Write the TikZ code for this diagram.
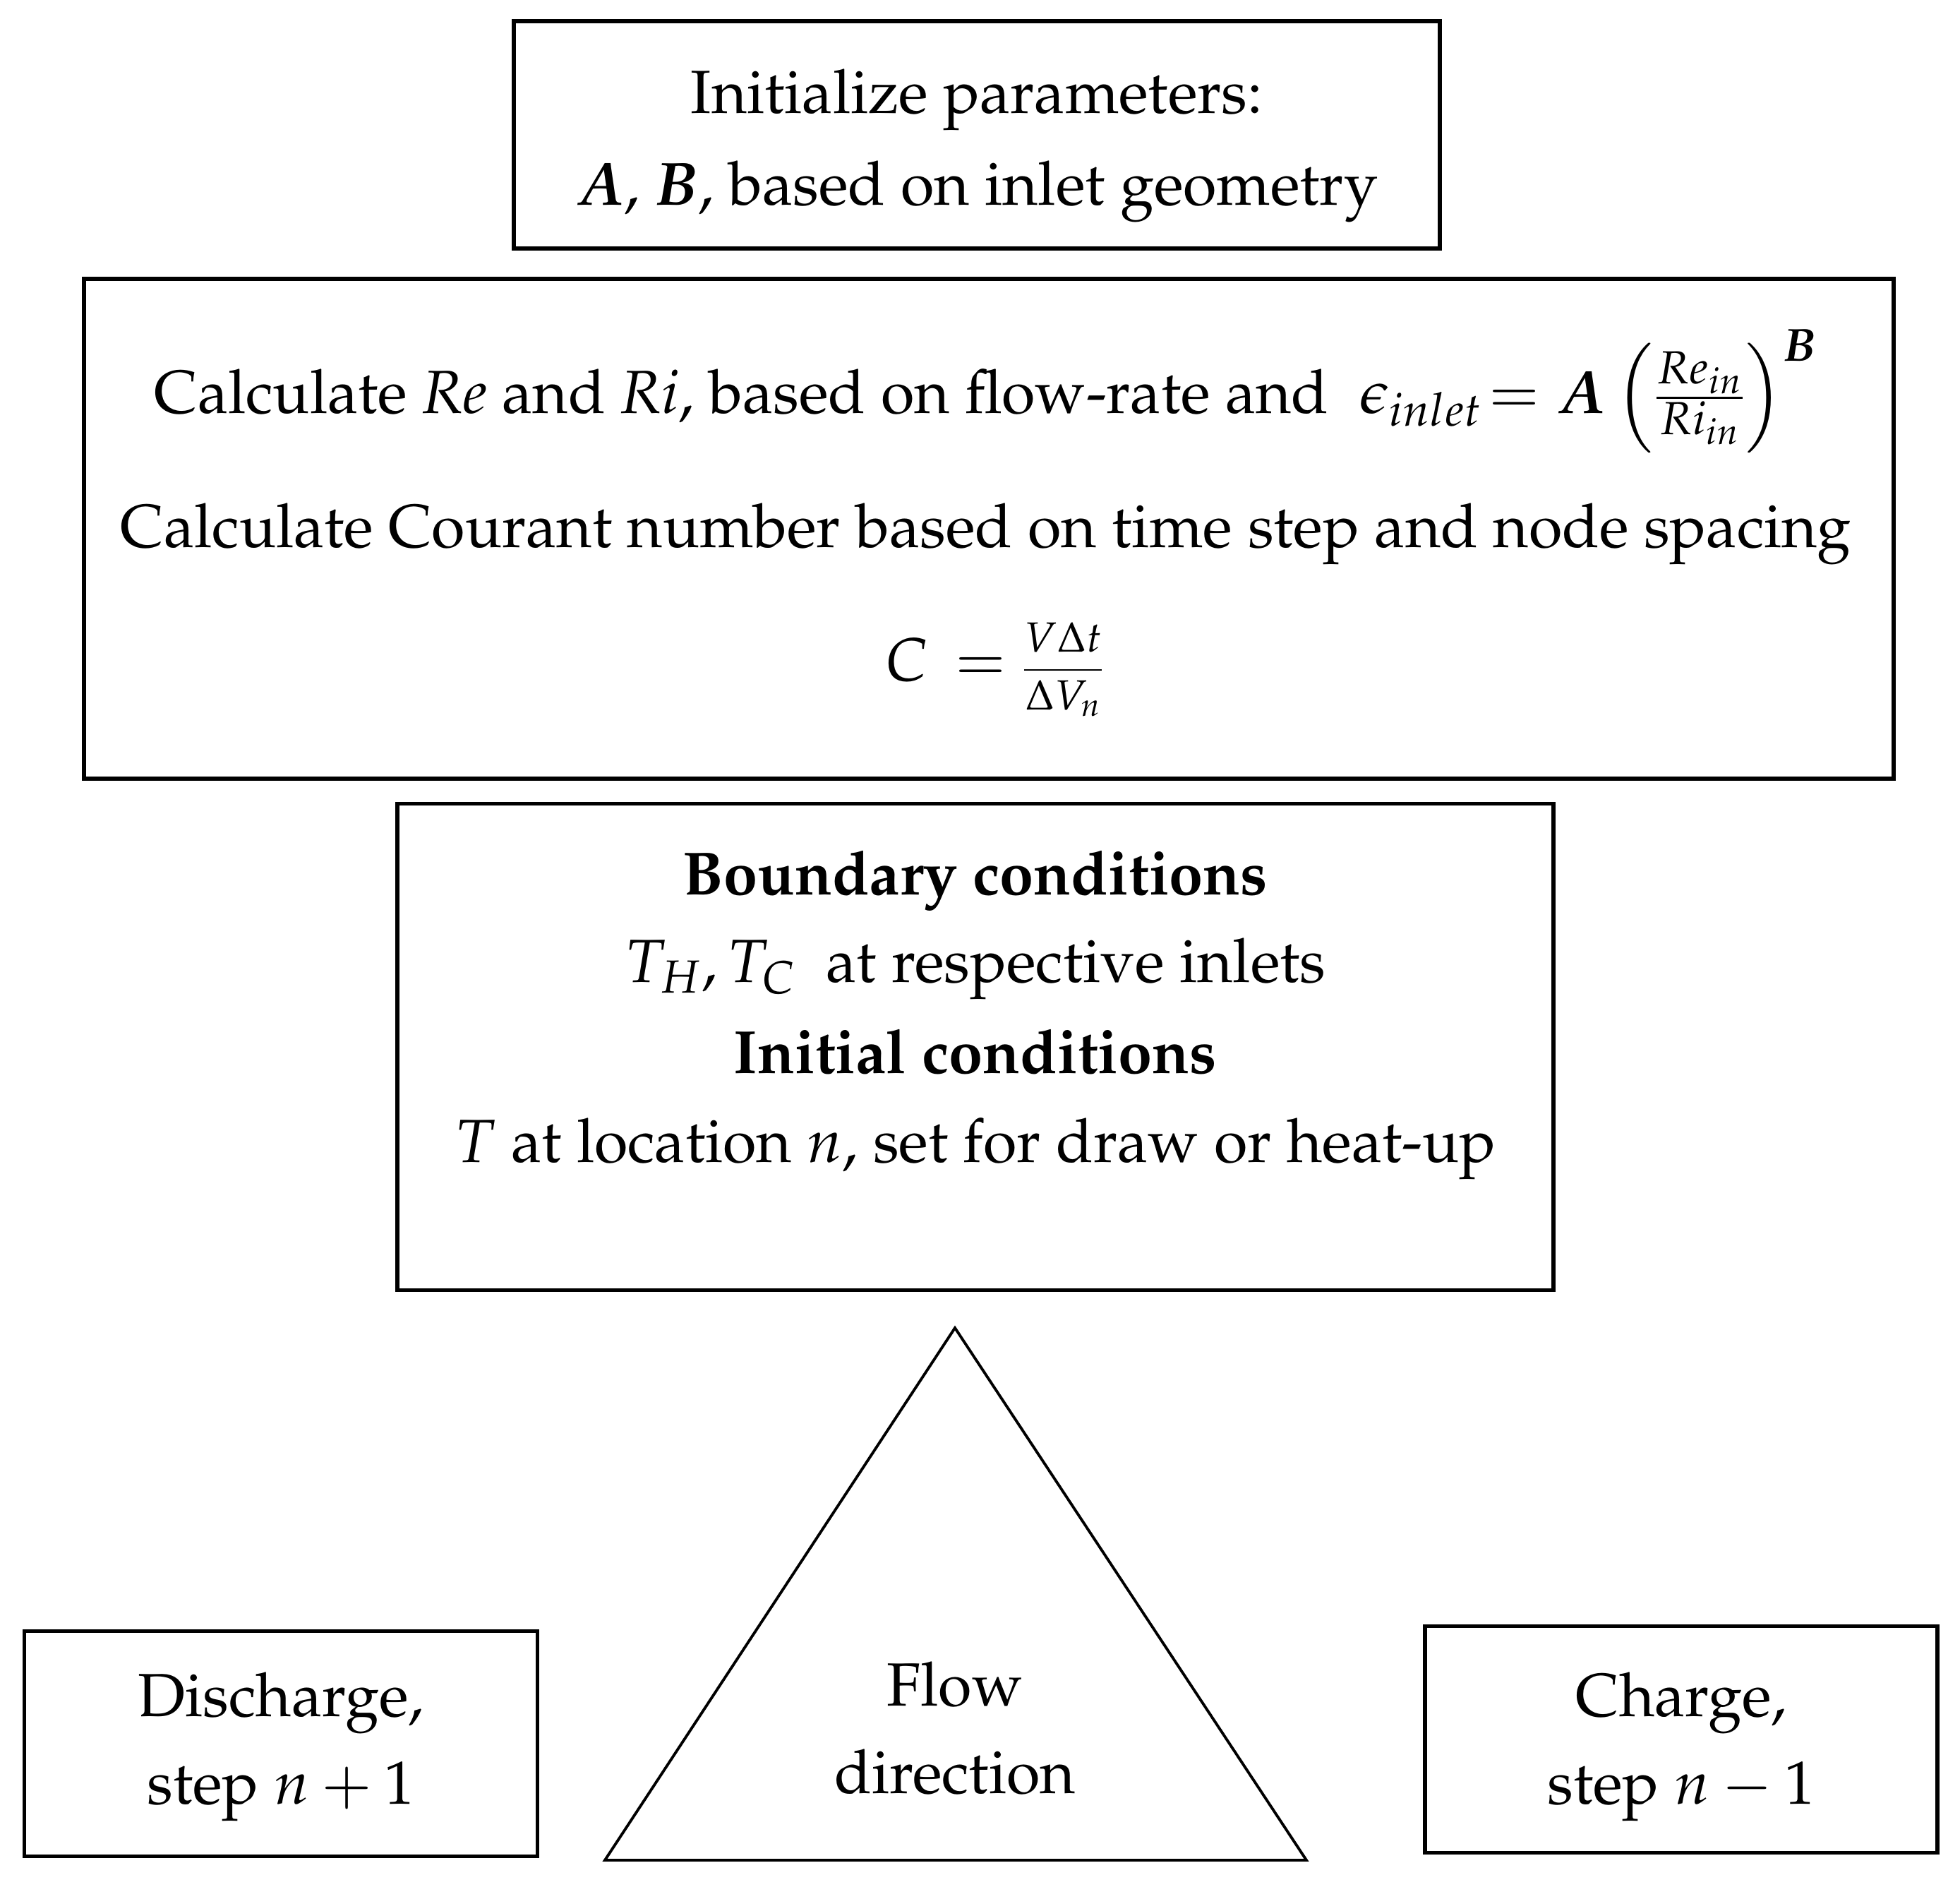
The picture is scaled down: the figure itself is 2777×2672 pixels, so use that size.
\documentclass[tikz,border=0pt]{standalone}
\usepackage[T1]{fontenc}
\usepackage{amsmath}
\usepackage{mathpazo}
\usepackage{bm}
\begin{document}
\begin{tikzpicture}[x=0.1mm,y=-0.1mm,
  box/.style={draw,line width=1.6pt,inner sep=0pt},
  txt/.style={inner sep=0pt,font=\fontsize{24.6}{30}\selectfont,align=center},
  tri/.style={draw,line width=1.1pt,line join=miter}]
\useasboundingbox (0,0) rectangle (2777,2672);
% boxes
\node[box,minimum width=131.2mm,minimum height=32.2mm] (b1) at (1384,191) {};
\node[box,minimum width=256.4mm,minimum height=70.8mm] (b2) at (1401,749) {};
\node[box,minimum width=163.8mm,minimum height=68.9mm] (b3) at (1382,1483) {};
\node[box,minimum width=72.7mm,minimum height=31.9mm] (bl) at (398,2470) {};
\node[box,minimum width=72.6mm,minimum height=32.1mm] (br) at (2382,2464) {};
% triangle
\coordinate (tA) at (1353,1881);
\coordinate (tL) at (857,2635);
\coordinate (tR) at (1851,2635);
\draw[tri] (tA) -- (tR) -- (tL) -- cycle;
% texts box 1
\node[txt,anchor=base] (t11) at (1384,160) {Initialize parameters:};
\node[txt,anchor=base] (t12) at (1384,290) {$\bm{A}$, $\bm{B}$, based on inlet geometry};
% texts box 2
\node[txt,anchor=base] (t21) at (1397,585) {Calculate \textit{Re} and \textit{Ri}, based on flow-rate and \ $\epsilon_{inlet}\!=\bm{A}\left(\frac{Re_{in}}{Ri_{in}}\right)^{\bm{B}}$};
\node[txt,anchor=base] (t22) at (1397,775) {Calculate Courant number based on time step and node spacing};
\node[txt] (t23) at (1410,948) {$C\,=$ {\fontsize{17}{20}\selectfont$\dfrac{V\Delta t}{\Delta V_n}$}};
% texts box 3
\node[txt,anchor=base] (t31) at (1382,1267) {\textbf{Boundary conditions}};
\node[txt,anchor=base] (t32) at (1382,1391) {$T_H,T_C$\ \ at respective inlets};
\node[txt,anchor=base] (t33) at (1382,1520) {\textbf{Initial conditions}};
\node[txt,anchor=base] (t34) at (1382,1646) {$T$ at location $n$, set for draw or heat-up};
% bottom
\node[txt,anchor=base] (l1) at (398,2431) {Discharge,};
\node[txt,anchor=base] (l2) at (398,2555) {step $n+1$};
\node[txt,anchor=base] (f1) at (1353,2416) {Flow};
\node[txt,anchor=base] (f2) at (1353,2540) {direction};
\node[txt,anchor=base] (r1) at (2382,2431) {Charge,};
\node[txt,anchor=base] (r2) at (2382,2555) {step $n-1$};
\end{tikzpicture}
\end{document}
